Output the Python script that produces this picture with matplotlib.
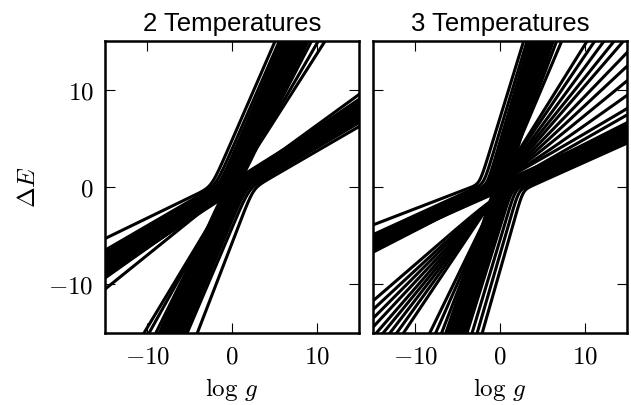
import numpy as np
import matplotlib.pyplot as plt

plt.rcParams['mathtext.fontset'] = 'cm'
plt.rcParams['font.family'] = ['Liberation Sans', 'DejaVu Sans']

titles = ['2 Temperatures', '3 Temperatures']
tick_values = [-10, 0, 10]
tick_labels = [r'$-10$', r'$0$', r'$10$']
x_label = r'$\log\,g$'
y_label = r'$\Delta E$'
limit = 15

# Every curve is two straight branches joined by a rounded corner.
# start = where it enters the frame, end = where it leaves, corner = where
# the branches meet. (data units).

# --- 2 Temperatures ---
t2_start = [
    # bend above the origin: enter on the left edge
    (-15, -5.3), (-15, -6.5), (-15, -6.8), (-15, -7.0), (-15, -7.2),
    (-15, -7.35), (-15, -7.5), (-15, -7.65), (-15, -7.8), (-15, -7.95),
    (-15, -8.1), (-15, -8.25), (-15, -8.4), (-15, -8.55), (-15, -8.7),
    (-15, -8.85), (-15, -9.0), (-15, -9.2), (-15, -9.35), (-15, -10.5),
    # bend below the origin: enter on the bottom edge
    (-4.1, -15), (-5.3, -15), (-5.6, -15), (-5.8, -15), (-6.0, -15),
    (-6.2, -15), (-6.4, -15), (-6.6, -15), (-6.8, -15), (-7.0, -15),
    (-7.2, -15), (-7.4, -15), (-7.6, -15), (-7.8, -15), (-8.0, -15),
    (-8.3, -15), (-8.6, -15), (-9.0, -15), (-9.8, -15), (-10.4, -15),
]
t2_end = [
    (5.1, 15), (5.6, 15), (5.9, 15), (6.1, 15), (6.3, 15),
    (6.5, 15), (6.7, 15), (6.9, 15), (7.1, 15), (7.3, 15),
    (7.5, 15), (7.7, 15), (7.9, 15), (8.1, 15), (8.4, 15),
    (8.7, 15), (9.0, 15), (9.4, 15), (10.2, 15), (11.0, 15),
    (15, 6.2), (15, 6.6), (15, 6.8), (15, 6.95), (15, 7.1),
    (15, 7.2), (15, 7.3), (15, 7.45), (15, 7.6), (15, 7.7),
    (15, 7.85), (15, 8.0), (15, 8.1), (15, 8.25), (15, 8.4),
    (15, 8.55), (15, 8.7), (15, 8.8), (15, 9.0), (15, 9.5),
]
t2_corner = [
    (-2.4, 0.0), (-1.9, 0.1), (-1.5, 0.1), (-1.2, 0.1), (-1.0, 0.1),
    (-0.8, 0.1), (-0.6, 0.1), (-0.45, 0.1), (-0.3, 0.05), (-0.15, 0.0),
    (0.0, 0.0), (0.1, -0.05), (0.2, -0.1), (0.3, -0.1), (0.4, -0.15),
    (0.5, -0.2), (0.6, -0.2), (0.4, -0.1), (0.2, 0.0), (0.0, 0.0),
    (2.5, -0.1), (2.0, -0.1), (1.6, -0.1), (1.3, -0.1), (1.1, -0.1),
    (0.9, -0.1), (0.7, -0.1), (0.5, -0.1), (0.35, -0.05), (0.2, 0.0),
    (0.05, 0.0), (-0.1, 0.05), (-0.2, 0.1), (-0.3, 0.1), (-0.4, 0.15),
    (-0.5, 0.2), (-0.6, 0.2), (-0.4, 0.1), (-0.2, 0.0), (0.0, 0.0),
]

# --- 3 Temperatures ---
t3_start = [
    # bend above the origin, shallow -> steep
    (-15, -3.9), (-15, -4.9), (-15, -5.05), (-15, -5.2), (-15, -5.3),
    (-15, -5.4), (-15, -5.5), (-15, -5.6), (-15, -5.7), (-15, -5.8),
    (-15, -5.9), (-15, -6.0), (-15, -6.1), (-15, -6.2), (-15, -6.35),
    (-15, -6.5), (-15, -6.7),
    # bend below the origin, steep -> shallow
    (-2.1, -15), (-2.7, -15), (-3.3, -15), (-3.9, -15), (-4.1, -15),
    (-4.3, -15), (-4.5, -15), (-4.7, -15), (-4.9, -15), (-5.1, -15),
    (-5.3, -15), (-5.5, -15), (-5.7, -15), (-5.9, -15), (-6.1, -15),
    (-6.4, -15), (-6.9, -15), (-7.6, -15), (-8.3, -15),
    # shallow -> middle slope, fanning to the upper right
    (-15, -5.5), (-15, -5.6), (-15, -5.7), (-15, -5.8), (-15, -5.9),
    (-15, -6.0), (-15, -6.1), (-15, -6.2), (-15, -6.3), (-15, -6.4),
    # middle slope -> shallow, fanning from the lower left
    (-15, -11.7), (-15, -12.6), (-15, -13.5), (-15, -14.4), (-14.6, -15),
    (-13.8, -15), (-13.0, -15), (-12.2, -15), (-11.4, -15),
]
t3_end = [
    (2.8, 15), (3.2, 15), (3.5, 15), (3.7, 15), (3.9, 15),
    (4.1, 15), (4.3, 15), (4.5, 15), (4.7, 15), (4.9, 15),
    (5.1, 15), (5.4, 15), (5.7, 15), (6.0, 15), (6.3, 15),
    (6.7, 15), (7.3, 15),
    (15, 4.5), (15, 4.8), (15, 4.95), (15, 5.05), (15, 5.15),
    (15, 5.25), (15, 5.35), (15, 5.45), (15, 5.55), (15, 5.65),
    (15, 5.75), (15, 5.85), (15, 5.95), (15, 6.05), (15, 6.15),
    (15, 6.3), (15, 6.45), (15, 6.6), (15, 7.4),
    (10.3, 15), (11.2, 15), (12.3, 15), (13.5, 15), (14.6, 15),
    (15, 13.8), (15, 12.4), (15, 10.9), (15, 9.4), (15, 8.0),
    (15, 5.1), (15, 5.3), (15, 5.5), (15, 5.7), (15, 5.8),
    (15, 5.9), (15, 6.0), (15, 6.1), (15, 6.2),
]
t3_corner = [
    (-2.4, 0.3), (-1.9, 0.3), (-1.5, 0.2), (-1.2, 0.2), (-1.0, 0.2),
    (-0.8, 0.15), (-0.6, 0.1), (-0.4, 0.1), (-0.2, 0.05), (0.0, 0.0),
    (0.15, -0.05), (0.3, -0.1), (0.45, -0.15), (0.6, -0.2), (0.4, -0.1),
    (0.2, 0.0), (0.0, 0.0),
    (2.7, -0.3), (2.2, -0.3), (1.8, -0.2), (1.4, -0.2), (1.2, -0.2),
    (1.0, -0.15), (0.8, -0.1), (0.6, -0.1), (0.4, -0.05), (0.2, 0.0),
    (0.0, 0.0), (-0.15, 0.05), (-0.3, 0.1), (-0.45, 0.15), (-0.6, 0.2),
    (-0.4, 0.1), (-0.2, 0.05), (0.0, 0.0), (0.1, 0.0),
    (-0.3, 0.2), (-0.3, 0.2), (-0.25, 0.15), (-0.25, 0.15), (-0.2, 0.1),
    (-0.2, 0.1), (-0.15, 0.1), (-0.15, 0.1), (-0.1, 0.05), (-0.1, 0.05),
    (0.3, -0.2), (0.3, -0.2), (0.25, -0.15), (0.25, -0.15), (0.2, -0.1),
    (0.2, -0.1), (0.15, -0.1), (0.15, -0.05), (0.1, -0.05),
]


def bent_line(x, start, end, corner, soft=0.6):
    # smooth max (or min) of the two straight branches
    (x0, y0), (x1, y1), (cx, cy) = start, end, corner
    k_left = (cy - y0) / (cx - x0)
    k_right = (y1 - cy) / (x1 - cx)
    s = 1.0 if k_left < k_right else -1.0
    u = x - cx
    return cy + s * soft * np.logaddexp(s * k_left * u / soft, s * k_right * u / soft)


fig = plt.figure(figsize=(6.31, 4.05), dpi=100)
ax1 = fig.add_axes([0.1664, 0.1778, 0.4025, 0.7210])
ax2 = fig.add_axes([0.5911, 0.1778, 0.4025, 0.7210])

xs = np.linspace(-16, 16, 1500)
panels = [(ax1, t2_start, t2_end, t2_corner), (ax2, t3_start, t3_end, t3_corner)]
for i, (ax, starts, ends, corners) in enumerate(panels):
    for st, en, co in zip(starts, ends, corners):
        ax.plot(xs, bent_line(xs, st, en, co), color='black', lw=2.2)
    ax.set_xlim(-limit, limit)
    ax.set_ylim(-limit, limit)
    ax.set_title(titles[i], fontsize=18.5, pad=7)
    ax.set_xticks(tick_values, labels=tick_labels)
    ax.set_yticks(tick_values, labels=tick_labels)
    ax.tick_params(direction='in', top=True, right=True, length=7, width=0.8,
                   labelsize=18, pad=8)
    for sp in ax.spines.values():
        sp.set_linewidth(1.8)
    ax.set_xlabel(x_label, fontsize=18, labelpad=6)

ax1.set_ylabel(y_label, fontsize=18, labelpad=6)
ax2.tick_params(labelleft=False)

fig.savefig('out.png', dpi=100)
